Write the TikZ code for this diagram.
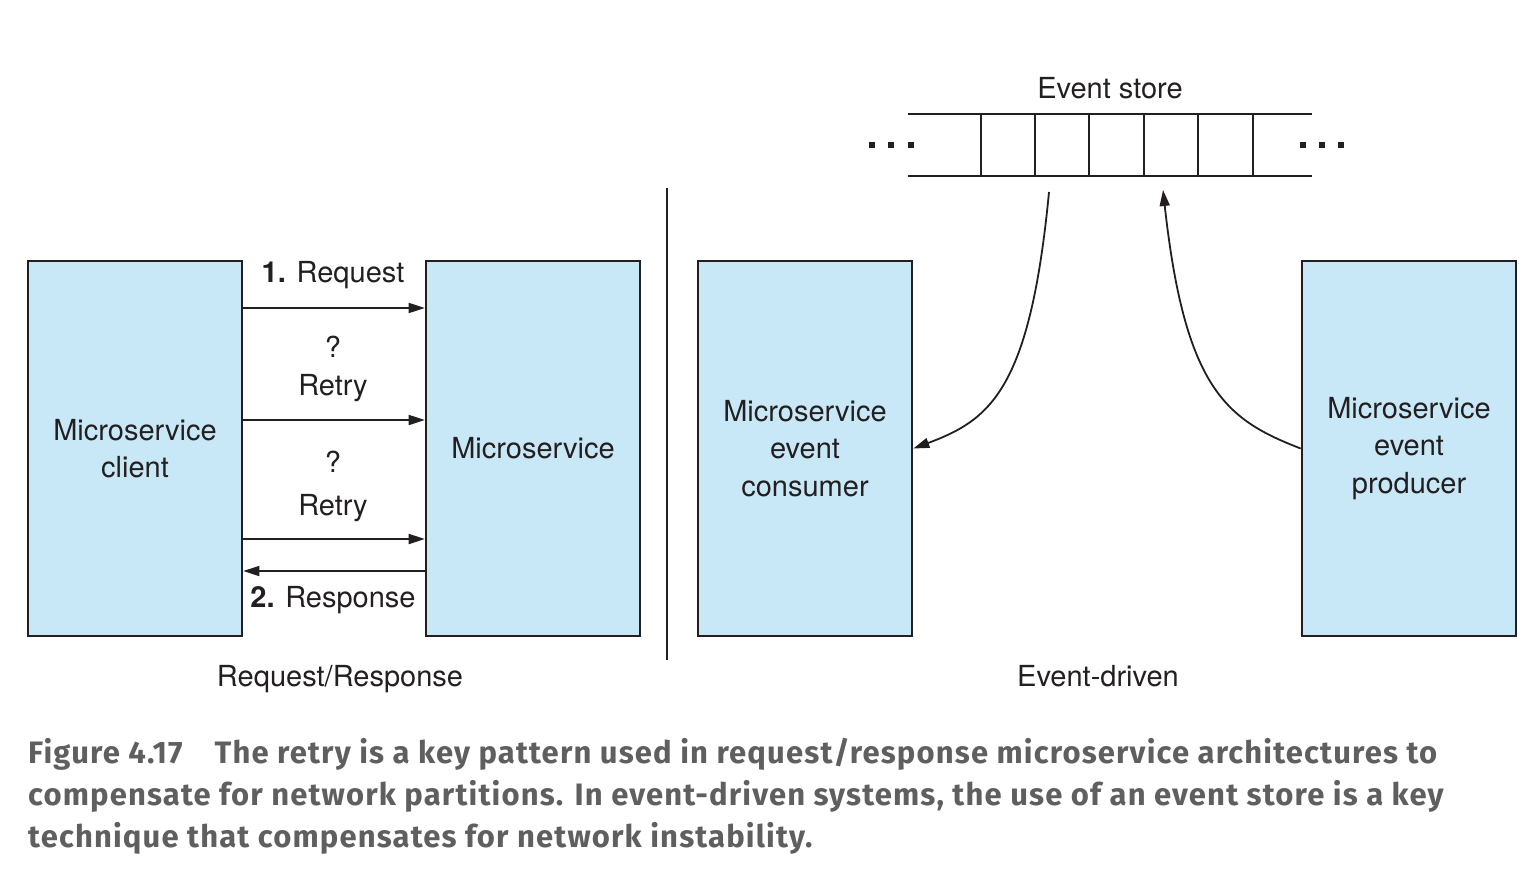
\documentclass[tikz,border=0pt]{standalone}
\usepackage{fontspec}
\setmainfont{TeX Gyre Heros}
\newfontfamily\capfont[LetterSpace=3.7]{Fira Sans}
\usetikzlibrary{arrows.meta}
\definecolor{boxblue}{RGB}{200,232,248}
\definecolor{ink}{RGB}{35,31,32}
\definecolor{capgrey}{RGB}{95,95,95}
\begin{document}
\begin{tikzpicture}[x=1pt, y=-1pt,
    svc/.style={draw=ink, line width=2.6pt, fill=boxblue, minimum width=214pt, minimum height=375pt,
      align=center, text=ink, font=\fontsize{29}{37.5}\selectfont},
    lbl/.style={anchor=base, inner sep=0pt, text=ink, font=\fontsize{29}{35}\selectfont},
    msg/.style={draw=ink, line width=1.8pt, -{Triangle[length=16pt,width=10pt]}},
    captext/.style={anchor=base west, inner sep=0pt, text=capgrey, font=\capfont\fontsize{31}{42}\selectfont\bfseries}]
  \useasboundingbox (0,0) rectangle (1538,874);

  % request/response side
  \node (client) at (135,448.5) [svc] {Microservice\\client};
  \node (ms) at (533,448.5) [svc] {Microservice};
  \foreach \yy in {308,420,539}
    \draw[msg] (client.east |- 0,\yy) -- (ms.west |- 0,\yy);
  \draw[msg] (ms.west |- 0,571) -- (client.east |- 0,571);
  \node (req) at (333,283) [lbl] {\textbf{1.} Request};
  \node (q1) at (333,357) [lbl] {?};
  \node (retry1) at (333,395) [lbl] {Retry};
  \node (q2) at (333,472) [lbl] {?};
  \node (retry2) at (333,515) [lbl] {Retry};
  \node (resp) at (333,607) [lbl] {\textbf{2.} Response};
  \node (rrlabel) at (340,686) [lbl] {Request/Response};

  \draw[ink, line width=2.6pt] (667,188) -- (667,660);

  % event-driven side
  \node (consumer) at (805,448.5) [svc] {Microservice\\event\\consumer};
  \node (producer) at (1409,448.5) [svc] {Microservice\\event\\producer};
  \node (edlabel) at (1098,686) [lbl] {Event-driven};

  \node (storelabel) at (1110,99) [lbl] {Event store};
  \draw[ink, line width=2.6pt] (908,114) -- (1312,114) (908,176) -- (1312,176);
  \foreach \xx in {981,1035,1089,1144,1198,1253}
    \draw[ink, line width=2.6pt] (\xx,114) -- (\xx,176);
  \foreach \xx in {872,891,911,1303,1322,1341}
    \fill[ink] (\xx-3,142) rectangle (\xx+3,148);

  \coordinate (readpt) at (1049,192);
  \coordinate (writept) at (1163,190);
  \draw[msg] (readpt) .. controls (1030,390) and (990,420) .. (consumer.east);
  \draw[msg] (producer.west) .. controls (1227,420) and (1185,390) .. (writept);

  % caption
  \node (cap1) at (28,763) [captext] {Figure 4.17\hspace{32pt}The retry is a key pattern used in request/response microservice architectures to};
  \node (cap2) at (28,805) [captext] {compensate for network partitions. In event-driven systems, the use of an event store is a key};
  \node (cap3) at (28,847) [captext] {technique that compensates for network instability.};
\end{tikzpicture}
\end{document}
